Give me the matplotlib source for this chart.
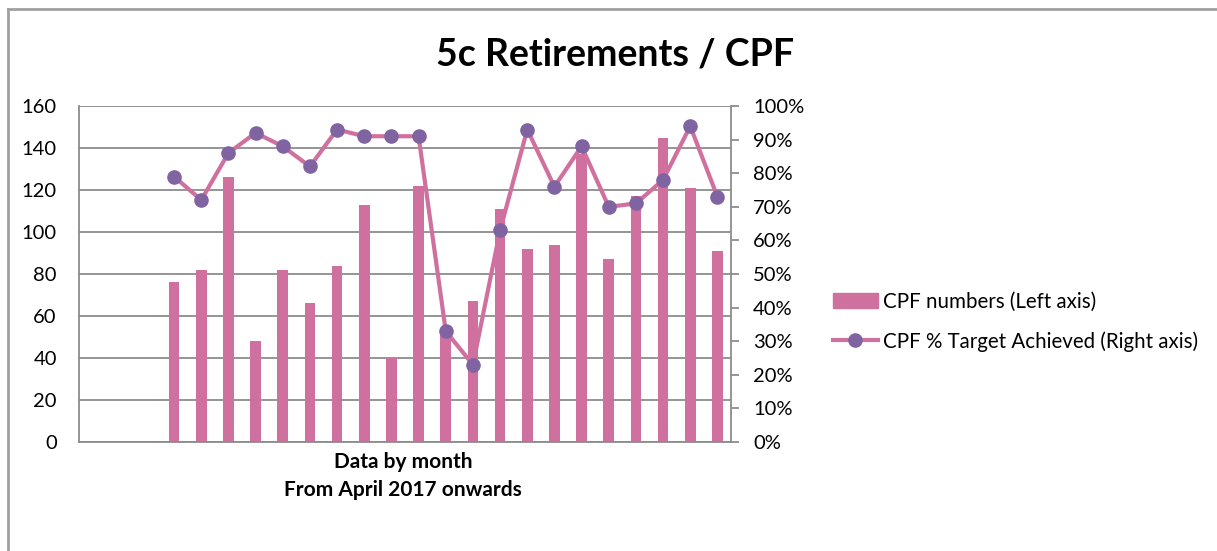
import numpy as np
import matplotlib.pyplot as plt
from matplotlib.lines import Line2D

plt.rcParams['font.family'] = ['Lato', 'DejaVu Sans']

# monthly data, starts at 4th category slot (first 3 empty)
n_slots = 24
start = 3
cpf_numbers = [76, 82, 126, 48, 82, 66, 84, 113, 40, 122, 52, 67, 111, 92, 94, 137, 87, 117, 145, 121, 91]
cpf_pct = [79, 72, 86, 92, 88, 82, 93, 91, 91, 91, 33, 23, 63, 93, 76, 88, 70, 71, 78, 94, 73]
left_ticks = [0, 20, 40, 60, 80, 100, 120, 140, 160]
right_ticks = [0, 10, 20, 30, 40, 50, 60, 70, 80, 90, 100]

bar_col = "#D0709E"
mark_col = "#8064A2"
grid_col = "#8C8C8C"

fig = plt.figure(figsize=(12.17, 5.51), dpi=100)
W, H = 1217, 551
ax = fig.add_axes([79/W, (H-442)/H, 652/W, 336/H])
x = np.arange(start, start + len(cpf_numbers))

ax.bar(x, cpf_numbers, width=0.39, color=bar_col, zorder=2)
ax.set_xlim(-0.5, n_slots - 0.5)
ax.set_ylim(0, 160)
ax.set_yticks(left_ticks)
ax.set_xticks([])
ax.yaxis.grid(True, color=grid_col, linewidth=1.3, zorder=0)
ax.set_axisbelow(True)
ax.tick_params(axis='y', length=0, labelsize=14.5, pad=16)
for s in ['left', 'bottom', 'top', 'right']:
    ax.spines[s].set_color(grid_col)
    ax.spines[s].set_linewidth(1.3)
ax.spines['top'].set_visible(False)
ax.spines['right'].set_visible(False)

ax2 = ax.twinx()
ax2.plot(x, cpf_pct, color=bar_col, linewidth=3, marker='o', markersize=9.5,
         markerfacecolor=mark_col, markeredgecolor=mark_col, zorder=3)
ax2.set_ylim(0, 100)
ax2.set_yticks(right_ticks)
ax2.set_yticklabels([f"{t}%" for t in right_ticks])
ax2.tick_params(axis='y', length=6, width=1.3, color=grid_col, labelsize=14.5, pad=10)
for s in ['left', 'bottom', 'top']:
    ax2.spines[s].set_visible(False)
ax2.spines['right'].set_color(grid_col)
ax2.spines['right'].set_linewidth(1.3)

fig.text(615/W, 1 - 55/H, "5c Retirements / CPF", ha='center', va='center',
         fontsize=27, fontweight='bold')
fig.text(403/W, 1 - 462/H, "Data by month", ha='center', va='center',
         fontsize=15, fontweight='bold')
fig.text(403/W, 1 - 490/H, "From April 2017 onwards", ha='center', va='center',
         fontsize=15, fontweight='bold')

handles = [plt.Rectangle((0, 0), 1, 1, color=bar_col),
           Line2D([0], [0], color=bar_col, linewidth=3, marker='o', markersize=9.5,
                  markerfacecolor=mark_col, markeredgecolor=mark_col)]
fig.legend(handles, ["CPF numbers (Left axis)", "CPF % Target Achieved (Right axis)"],
           loc='upper left', bbox_to_anchor=(814/W, 1 - 273/H), frameon=False,
           fontsize=14.8, handlelength=2.2, handletextpad=0.25, labelspacing=0.95)

# chart frame (left and top edges)
fig.add_artist(Line2D([8/W, 8/W], [0, 1 - 9/H], color="#A0A0A0", linewidth=2))
fig.add_artist(Line2D([8/W, 1], [1 - 9/H, 1 - 9/H], color="#A0A0A0", linewidth=2))

fig.savefig("out.png", dpi=100)
